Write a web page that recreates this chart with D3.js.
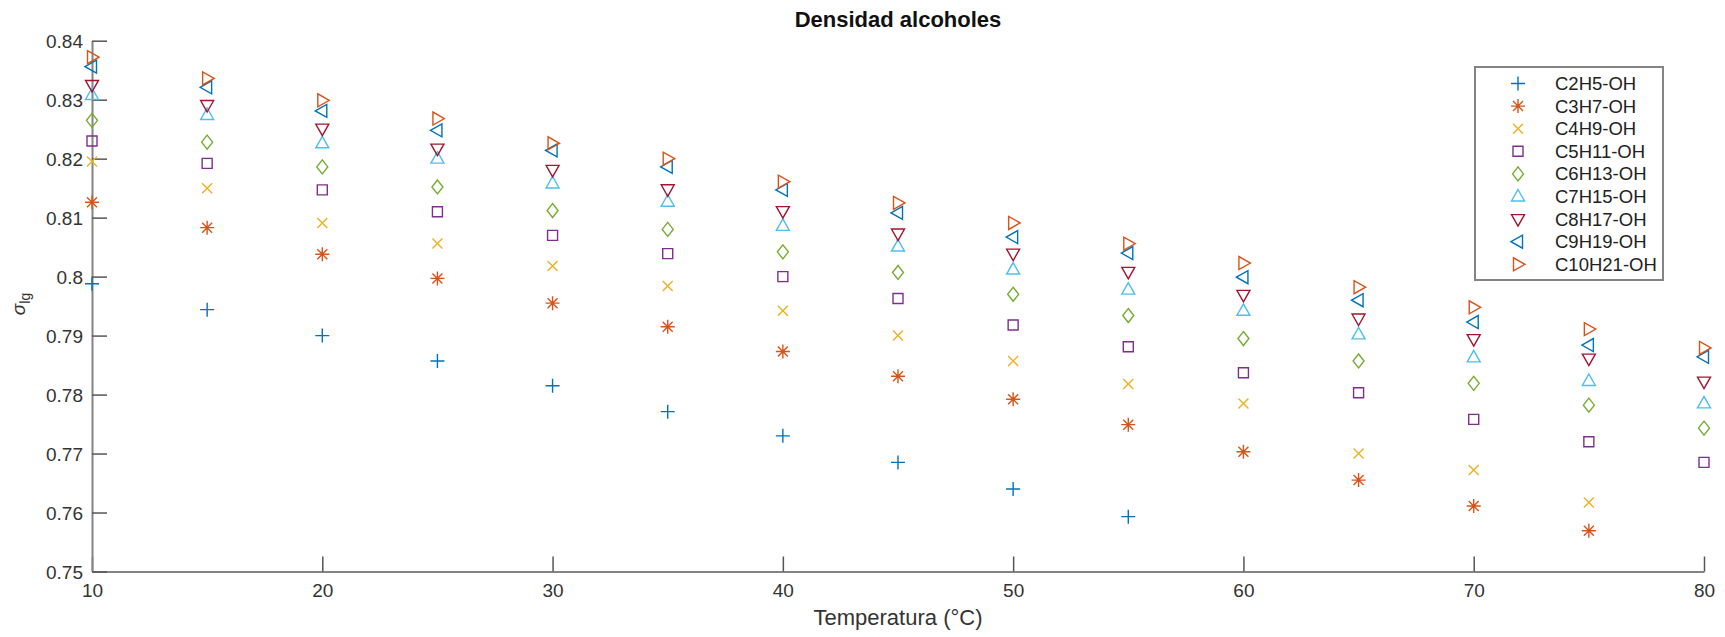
<!DOCTYPE html>
<meta charset="utf-8">
<style>
  body { margin: 0; background: #fff; }
  svg { font-family: "Liberation Sans", Arial, sans-serif; }
</style>
<body>
<script src="https://d3js.org/d3.v7.min.js"></script>
<script>

    var temps = [10, 15, 20, 25, 30, 35, 40, 45, 50, 55, 60, 65, 70, 75, 80];

    var names = ["C2H5-OH", "C3H7-OH", "C4H9-OH", "C5H11-OH", "C6H13-OH",
                 "C7H15-OH", "C8H17-OH", "C9H19-OH", "C10H21-OH"];

    var c2  = [0.7988, 0.7944, 0.7900, 0.7857, 0.7815, 0.7771, 0.7730, 0.7685, 0.7640, 0.7593, null, null, null, null, null];
    var c3  = [0.8126, 0.8083, 0.8038, 0.7997, 0.7955, 0.7915, 0.7873, 0.7831, 0.7792, 0.7749, 0.7703, 0.7655, 0.7611, 0.7569, null];
    var c4  = [0.8195, 0.8150, 0.8091, 0.8056, 0.8018, 0.7984, 0.7942, 0.7900, 0.7857, 0.7818, 0.7785, 0.7700, 0.7672, 0.7617, null];
    var c5  = [0.8230, 0.8192, 0.8147, 0.8110, 0.8070, 0.8039, 0.8000, 0.7963, 0.7918, 0.7881, 0.7837, 0.7803, 0.7758, 0.7720, 0.7685];
    var c6  = [0.8265, 0.8228, 0.8186, 0.8152, 0.8112, 0.8080, 0.8042, 0.8007, 0.7970, 0.7934, 0.7895, 0.7857, 0.7819, 0.7782, 0.7743];
    var c7  = [0.8308, 0.8274, 0.8226, 0.8200, 0.8158, 0.8127, 0.8086, 0.8051, 0.8012, 0.7978, 0.7942, 0.7902, 0.7863, 0.7823, 0.7785];
    var c8  = [0.8325, 0.8291, 0.8251, 0.8217, 0.8181, 0.8148, 0.8111, 0.8073, 0.8039, 0.8008, 0.7969, 0.7929, 0.7894, 0.7861, 0.7822];
    var c9  = [0.8356, 0.8321, 0.8281, 0.8248, 0.8214, 0.8186, 0.8147, 0.8108, 0.8067, 0.8040, 0.7999, 0.7960, 0.7923, 0.7884, 0.7864];
    var c10 = [0.8372, 0.8336, 0.8299, 0.8268, 0.8226, 0.8200, 0.8161, 0.8125, 0.8091, 0.8056, 0.8023, 0.7982, 0.7948, 0.7911, 0.7879];

    var xTicks = [10, 20, 30, 40, 50, 60, 70, 80];
    var yTicks = [0.75, 0.76, 0.77, 0.78, 0.79, 0.8, 0.81, 0.82, 0.83, 0.84];

    var series = [c2, c3, c4, c5, c6, c7, c8, c9, c10];
    var colors = ["#0072BD", "#D95319", "#EDB120", "#7E2F8E", "#77AC30",
                  "#4DBEEE", "#A2142F", "#0072BD", "#D95319"];

    // marker shapes, centred on 0,0
    var shapes = [
        "M-7,0H7M0,-7V7",
        "M-7,0H7M0,-7V7M-5,-5L5,5M-5,5L5,-5",
        "M-5,-5L5,5M-5,5L5,-5",
        "M-5,-5H5V5H-5Z",
        "M0,-7L5.5,0L0,7L-5.5,0Z",
        "M0,-7L6.5,4.5L-6.5,4.5Z",
        "M0,7L6.5,-4.5L-6.5,-4.5Z",
        "M-7,0L4.5,-6.5L4.5,6.5Z",
        "M7,0L-4.5,-6.5L-4.5,6.5Z"
    ];

    var w = 1725, h = 637;

    var svg = d3.select("body")
            .append("svg")
            .attr("width", w)
            .attr("height", h);

    svg.append("rect").attr("width", w).attr("height", h).attr("fill", "#fff");

    var x = d3.scaleLinear().domain([10, 80]).range([92, 1704]);
    var y = d3.scaleLinear().domain([0.75, 0.84]).range([571.5, 40.7]);

    // axes
    var xAxis = svg.append("g")
            .attr("transform", "translate(0," + y(0.75) + ")")
            .call(d3.axisBottom(x).tickValues(xTicks).tickSize(-15).tickSizeOuter(0).tickPadding(12));

    var yAxis = svg.append("g")
            .attr("transform", "translate(" + x(10) + ",0)")
            .call(d3.axisLeft(y).tickValues(yTicks).tickSize(-15).tickSizeOuter(0).tickPadding(9)
                .tickFormat(function(d) { return String(+d.toFixed(2)); }));

    [xAxis, yAxis].forEach(function(a) {
        a.select(".domain").attr("stroke", "#848484").attr("stroke-width", 2);
        a.selectAll(".tick line").attr("stroke", "#555").attr("stroke-width", 1.5);
        a.selectAll(".tick text").attr("fill", "#333").attr("font-size", 19)
            .attr("font-family", "Liberation Sans, Arial, sans-serif");
    });
    yAxis.selectAll(".tick text").attr("dy", "0.35em");

    // title and labels
    svg.append("text")
            .attr("x", 898).attr("y", 27)
            .attr("text-anchor", "middle")
            .attr("font-size", 22).attr("font-weight", "bold")
            .attr("fill", "#111")
            .text("Densidad alcoholes");

    svg.append("text")
            .attr("x", 898).attr("y", 625)
            .attr("text-anchor", "middle")
            .attr("font-size", 22).attr("fill", "#333")
            .text("Temperatura (°C)");

    var yl = svg.append("text")
            .attr("transform", "translate(25,304) rotate(-90)")
            .attr("text-anchor", "middle")
            .attr("font-size", 19).attr("fill", "#333");
    yl.append("tspan").attr("font-style", "italic").text("σ");
    yl.append("tspan").attr("font-size", 14).attr("dy", 5).text("lg");

    // markers
    series.forEach(function(vals, s) {
        var pts = temps.map(function(t, i) { return {t: t, v: vals[i]}; })
                .filter(function(d) { return d.v != null; });
        svg.append("g").selectAll("path")
                .data(pts)
                .enter()
                .append("path")
                .attr("transform", function(d) { return "translate(" + x(d.t) + "," + y(d.v) + ")"; })
                .attr("d", shapes[s])
                .attr("fill", "none")
                .attr("stroke", colors[s])
                .attr("stroke-width", 1.4);
    });

    // legend
    var lg = svg.append("g");
    lg.append("rect")
            .attr("x", 1475).attr("y", 67)
            .attr("width", 188).attr("height", 213)
            .attr("fill", "#fff")
            .attr("stroke", "#848484").attr("stroke-width", 2);

    var items = lg.selectAll("g.item")
            .data(names)
            .enter()
            .append("g")
            .attr("class", "item")
            .attr("transform", function(d, i) { return "translate(0," + (83.5 + i * 22.6) + ")"; });

    items.append("path")
            .attr("transform", "translate(1518,0)")
            .attr("d", function(d, i) { return shapes[i]; })
            .attr("fill", "none")
            .attr("stroke", function(d, i) { return colors[i]; })
            .attr("stroke-width", 1.4);

    items.append("text")
            .attr("x", 1555).attr("dy", "0.35em")
            .attr("font-size", 18.5).attr("fill", "#222")
            .text(function(d) { return d; });

</script>
